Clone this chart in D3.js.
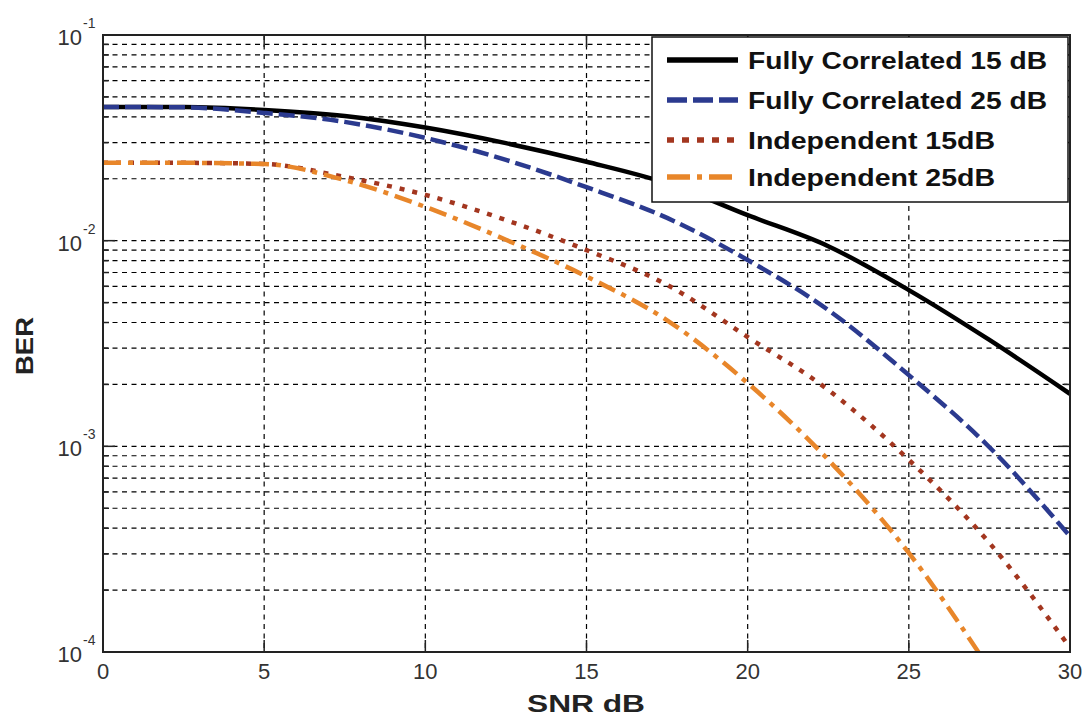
<!DOCTYPE html>
<html>
<head>
<meta charset="utf-8">
<script src="https://cdn.jsdelivr.net/npm/d3@7"></script>
<style>
  html, body { margin: 0; padding: 0; background: #fff; }
  svg { display: block; }
</style>
</head>
<body>
<svg id="chart" width="1084" height="718"></svg>
<script>
// ---- data ----
const snr = [0, 2.5, 5, 7.5, 10, 12.5, 15, 17.5, 20, 22.5, 25, 27.5, 30];
const fullyCorr15 = [0.0447, 0.0446, 0.0432, 0.0404, 0.0355, 0.0298, 0.0242, 0.0190, 0.0133, 0.0094, 0.00575, 0.00329, 0.00180];
const fullyCorr25 = [0.0447, 0.0445, 0.0418, 0.0378, 0.0316, 0.0247, 0.0182, 0.0129, 0.00805, 0.0046, 0.00222, 0.00099, 0.000365];
const indep15     = [0.0239, 0.0239, 0.0236, 0.0204, 0.0167, 0.0126, 0.0090, 0.0061, 0.0034, 0.00188, 0.00086, 0.000339, 0.000105];
const indep25     = [0.0239, 0.0239, 0.0236, 0.0197, 0.0146, 0.0101, 0.0067, 0.0041, 0.00203, 0.00086, 0.000303, 0.000083, null];
const seriesNames = ["Fully Correlated 15 dB", "Fully Correlated 25 dB", "Independent 15dB", "Independent 25dB"];
const xTicks = [0, 5, 10, 15, 20, 25, 30];
const yExponents = [-1, -2, -3, -4];

// ---- styles ----
const styles = [
  { color: "#000000", dash: null,          legendDash: null },
  { color: "#2B3A8F", dash: "16,6",        legendDash: "20,6" },
  { color: "#A3361F", dash: "5,8",         legendDash: "7,8" },
  { color: "#E8862A", dash: "18,7,5,7",    legendDash: "23,7,5,7" }
];
const legendWidths = [299, 299, 247, 247];

const svg = d3.select("#chart");
const L = 103, R = 1070, T = 35, B = 652;

const x = d3.scaleLinear().domain([0, 30]).range([L, R]);
const y = d3.scaleLog().domain([1e-4, 1e-1]).range([B, T]);

// grid
const minorVals = [];
for (let e = -4; e <= -2; e++) for (let m = 1; m <= 9; m++) minorVals.push(m * Math.pow(10, e));
minorVals.push(1e-1);

const grid = svg.append("g").attr("stroke", "#000").attr("stroke-width", 1.2).attr("stroke-dasharray", "5,4.5").attr("fill", "none");
minorVals.filter(v => v > 1e-4 && v < 1e-1).forEach(v => {
  grid.append("line").attr("x1", L).attr("x2", R).attr("y1", y(v)).attr("y2", y(v));
});
xTicks.filter(t => t > 0 && t < 30).forEach(t => {
  grid.append("line").attr("x1", x(t)).attr("x2", x(t)).attr("y1", T).attr("y2", B);
});

// ticks (inward)
const ticks = svg.append("g").attr("stroke", "#222").attr("stroke-width", 1.5);
minorVals.forEach(v => {
  const isMajor = Math.abs(Math.log10(v) - Math.round(Math.log10(v))) < 1e-9;
  const len = isMajor ? 12 : 6;
  ticks.append("line").attr("x1", L).attr("x2", L + len).attr("y1", y(v)).attr("y2", y(v));
  ticks.append("line").attr("x1", R).attr("x2", R - len).attr("y1", y(v)).attr("y2", y(v));
});
xTicks.forEach(t => {
  ticks.append("line").attr("x1", x(t)).attr("x2", x(t)).attr("y1", B).attr("y2", B - 12);
  ticks.append("line").attr("x1", x(t)).attr("x2", x(t)).attr("y1", T).attr("y2", T + 12);
});

// clip
svg.append("clipPath").attr("id", "clip").append("rect")
  .attr("x", L).attr("y", T).attr("width", R - L).attr("height", B - T);

const allSeries = [fullyCorr15, fullyCorr25, indep15, indep25];
const line = d3.line()
  .defined(d => d[1] != null)
  .x(d => x(d[0])).y(d => y(d[1]))
  .curve(d3.curveMonotoneX);

const linesG = svg.append("g").attr("clip-path", "url(#clip)");
allSeries.forEach((s, i) => {
  const pts = snr.map((v, j) => [v, s[j]]);
  linesG.append("path")
    .attr("d", line(pts))
    .attr("fill", "none")
    .attr("stroke", styles[i].color)
    .attr("stroke-width", 4.5)
    .attr("stroke-dasharray", styles[i].dash)
    .attr("stroke-linejoin", "round");
});

// frame
svg.append("rect").attr("x", L).attr("y", T).attr("width", R - L).attr("height", B - T)
  .attr("fill", "none").attr("stroke", "#222").attr("stroke-width", 2);

// tick labels
const font = "'Liberation Sans', Arial, Helvetica, sans-serif";
const xl = svg.append("g").attr("font-family", font).attr("font-size", 22).attr("fill", "#333");
xTicks.forEach(t => {
  xl.append("text").attr("x", x(t)).attr("y", 679).attr("text-anchor", "middle").text(t);
});
yExponents.forEach(e => {
  const yy = y(Math.pow(10, e));
  xl.append("text").attr("x", 82).attr("y", yy + 10).attr("text-anchor", "end").text("10");
  xl.append("text").attr("x", 83).attr("y", yy - 7).attr("font-size", 14).text(String(e));
});

// axis titles
svg.append("text").attr("x", 527).attr("y", 712)
  .attr("font-family", font).attr("font-weight", "bold").attr("font-size", 24).attr("fill", "#222")
  .attr("textLength", 118).attr("lengthAdjust", "spacingAndGlyphs")
  .text("SNR dB");
svg.append("text").attr("transform", "translate(33,375) rotate(-90)")
  .attr("font-family", font).attr("font-weight", "bold").attr("font-size", 24).attr("fill", "#222")
  .attr("textLength", 58).attr("lengthAdjust", "spacingAndGlyphs")
  .text("BER");

// legend
const lg = svg.append("g");
lg.append("rect").attr("x", 652).attr("y", 37).attr("width", 416).attr("height", 165)
  .attr("fill", "#fff").attr("stroke", "#111").attr("stroke-width", 1.5);
const rowY = [60, 100, 140, 177];
seriesNames.forEach((n, i) => {
  lg.append("line").attr("x1", 667).attr("x2", 738).attr("y1", rowY[i]).attr("y2", rowY[i])
    .attr("stroke", styles[i].color).attr("stroke-width", 5.5)
    .attr("stroke-dasharray", styles[i].legendDash);
  lg.append("text").attr("x", 748).attr("y", rowY[i] + 9)
    .attr("font-family", font).attr("font-weight", "bold").attr("font-size", 24).attr("fill", "#111")
    .attr("textLength", legendWidths[i]).attr("lengthAdjust", "spacingAndGlyphs")
    .text(n);
});
</script>
</body>
</html>
